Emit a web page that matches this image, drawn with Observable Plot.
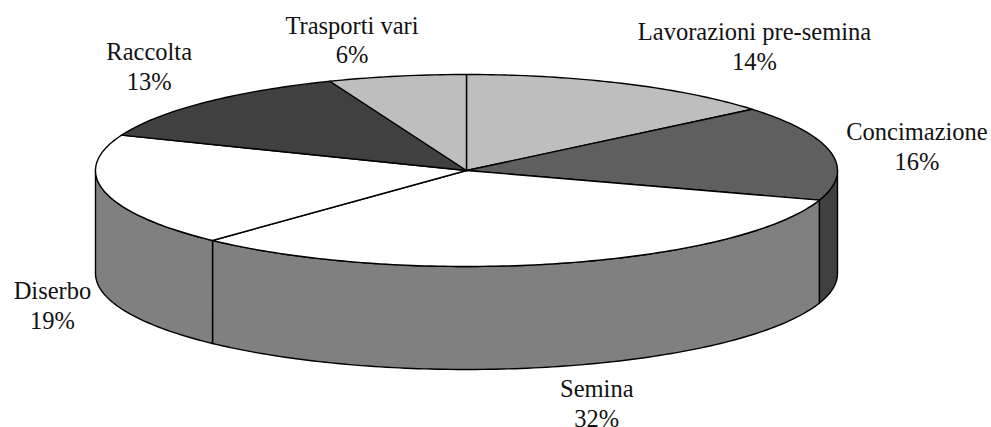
<!DOCTYPE html>
<html>
<head>
<meta charset="utf-8">
<style>
  html, body { margin: 0; padding: 0; background: #fff; }
  svg { display: block; }
</style>
<script src="https://cdn.jsdelivr.net/npm/d3@7"></script>
<script src="https://cdn.jsdelivr.net/npm/@observablehq/plot@0.6"></script>
</head>
<body>
<div id="chart"></div>
<script>
// Data, clockwise from 12 o'clock
const names = ["Lavorazioni pre-semina", "Concimazione", "Semina", "Diserbo", "Raccolta", "Trasporti vari"];
const shares = [14, 16, 32, 19, 13, 6];

// Styling
const topColors = ["#bebebe", "#5f5f5f", "#ffffff", "#ffffff", "#404040", "#bebebe"];
const sideColors = ["#5f5f5f", "#404040", "#808080", "#808080", "#202020", "#5f5f5f"];
// Label nudges (px) from the rim point of each slice's middle angle
const labelNudgeX = [130, 86, 38, -52, -55, -45];
const labelNudgeY = [-38, -7, 139, 113, -37, -37];

// Layout of the tilted disc
const W = 991, H = 427;
const cx = 466, cy = 170, rx = 371, ry = 96, depthPx = 103;
const depth = depthPx / ry;

const total = d3.sum(shares);
const cum = d3.cumsum(shares);
const rim = (deg, drop = 0) => ({
  x: Math.sin(deg * Math.PI / 180),
  y: Math.cos(deg * Math.PI / 180) - drop
});
const arc = (a, b, drop = 0) => {
  const n = Math.max(2, Math.ceil(Math.abs(b - a)));
  return d3.range(n + 1).map(i => rim(a + (b - a) * i / n, drop));
};

const slices = names.map((name, i) => ({
  name, i, share: shares[i],
  start: (cum[i] - shares[i]) / total * 360,
  end: cum[i] / total * 360
}));

// Top faces
const topRows = slices.flatMap(s => {
  const pts = [{x: 0, y: 0}, ...arc(s.start, s.end), {x: 0, y: 0}];
  return pts.map(p => ({...p, id: s.name, color: topColors[s.i]}));
});

// Visible outer walls: the part of each slice on the front half
const sideRows = slices.flatMap(s => {
  const a = Math.max(s.start, 90), b = Math.min(s.end, 270);
  if (b <= a) return [];
  const top = arc(a, b), bottom = arc(b, a, depth);
  return [...top, ...bottom, top[0]].map(p => ({...p, id: s.name, color: sideColors[s.i]}));
});

const labelMarks = slices.map(s => {
  const p = rim((s.start + s.end) / 2);
  return Plot.text([{...p, label: `${s.name}\n${s.share}%`}], {
    x: "x", y: "y", text: "label",
    dx: labelNudgeX[s.i], dy: labelNudgeY[s.i],
    fontFamily: "Liberation Serif", fontSize: 24.5, lineHeight: 1.2,
    fill: "#111", textAnchor: "middle"
  });
});

const chart = Plot.plot({
  width: W, height: H,
  margin: 0,
  style: {background: "#fff"},
  x: {domain: [-cx / rx, (W - cx) / rx], range: [0, W], axis: null},
  y: {domain: [cy / ry, (cy - H) / ry], range: [0, H], axis: null},
  marks: [
    Plot.line(sideRows, {x: "x", y: "y", z: "id", fill: "color", stroke: "#000", strokeWidth: 1.4, strokeLinejoin: "round"}),
    Plot.line(topRows, {x: "x", y: "y", z: "id", fill: "color", stroke: "#000", strokeWidth: 1.4, strokeLinejoin: "round"}),
    ...labelMarks
  ]
});
document.getElementById("chart").appendChild(chart);
</script>
</body>
</html>
